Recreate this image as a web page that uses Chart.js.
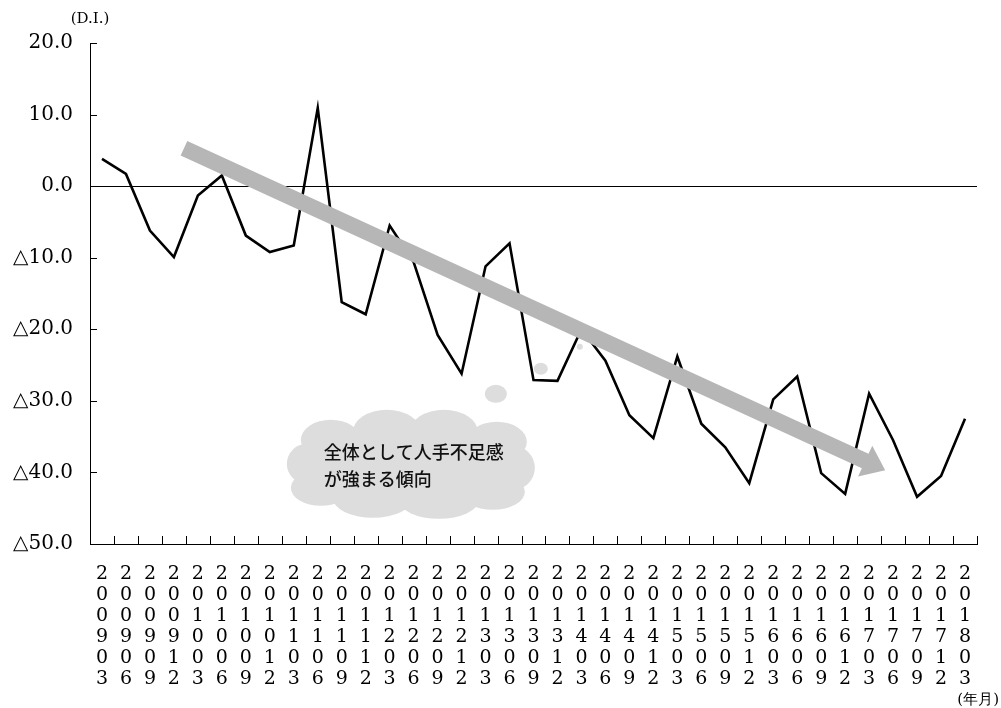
<!DOCTYPE html>
<html>
<head>
<meta charset="utf-8">
<script src="https://cdn.jsdelivr.net/npm/chart.js@4/dist/chart.umd.min.js"></script>
<style>
  html, body { margin: 0; padding: 0; background: #fff; }
  canvas { display: block; }
</style>
</head>
<body>
<canvas id="chartDI" width="1001" height="708"></canvas>
<script>
// 年月 (四半期)
const periods = [
  "200903", "200906", "200909", "200912",
  "201003", "201006", "201009", "201012",
  "201103", "201106", "201109", "201112",
  "201203", "201206", "201209", "201212",
  "201303", "201306", "201309", "201312",
  "201403", "201406", "201409", "201412",
  "201503", "201506", "201509", "201512",
  "201603", "201606", "201609", "201612",
  "201703", "201706", "201709", "201712",
  "201803",
];

// D.I. の値
const diValues = [
  3.8, 1.7, -6.2, -9.9,
  -1.3, 1.5, -6.9, -9.2,
  -8.3, 10.9, -16.2, -17.9,
  -5.5, -10.6, -20.8, -26.2,
  -11.2, -8.0, -27.1, -27.2,
  -20.0, -24.4, -32.0, -35.2,
  -23.8, -33.2, -36.5, -41.5,
  -29.8, -26.6, -40.1, -43.0,
  -29.0, -35.5, -43.4, -40.5,
  -32.5,
];

// 縦軸の目盛
const yTicks = [20, 10, 0, -10, -20, -30, -40, -50];

// 吹き出しの文
const calloutLines = ["全体として人手不足感", "が強まる傾向"];

// 傾向の矢印 (カテゴリ位置, 値)
const arrowFrom = [3.42, 5.3];
const arrowTo = [32.67, -39.7];

// 吹き出しの中心 (カテゴリ位置, 値)
const cloudAt = [12.8, -38.8];

const serif = "'DejaVu Serif', 'Liberation Serif', serif";

// 目盛ラベル (△ はマイナス)
const fmtTick = (v) => (v < 0 ? "△" + Math.abs(v).toFixed(1) : v.toFixed(1));

const decoPlugin = {
  id: "deco",
  afterDatasetsDraw(chart) {
    const { ctx, chartArea } = chart;
    const x = chart.scales.x;
    const y = chart.scales.y;
    ctx.save();

    // 内向きの目盛線
    ctx.strokeStyle = "#000";
    ctx.lineWidth = 1;
    ctx.beginPath();
    yTicks.forEach((v) => {
      const py = Math.round(y.getPixelForValue(v)) + 0.5;
      ctx.moveTo(chartArea.left, py);
      ctx.lineTo(chartArea.left + 7, py);
    });
    const n = periods.length;
    const step = (chartArea.right - chartArea.left) / n;
    for (let i = 0; i <= n; i++) {
      const px = Math.round(chartArea.left + i * step) + 0.5;
      ctx.moveTo(px, chartArea.bottom);
      ctx.lineTo(px, chartArea.bottom - 8);
    }
    ctx.stroke();

    // 矢印
    const x1 = x.getPixelForValue(arrowFrom[0]);
    const y1 = y.getPixelForValue(arrowFrom[1]);
    const x2 = x.getPixelForValue(arrowTo[0]);
    const y2 = y.getPixelForValue(arrowTo[1]);
    const len = Math.hypot(x2 - x1, y2 - y1);
    const dx = (x2 - x1) / len;
    const dy = (y2 - y1) / len;
    const nx = -dy;
    const ny = dx;
    const half = 8;
    const headLen = 22;
    const headHalf = 17;
    const bx = x2 - dx * headLen;
    const by = y2 - dy * headLen;
    ctx.fillStyle = "#b5b6b5";
    ctx.beginPath();
    ctx.moveTo(x1 + nx * half, y1 + ny * half);
    ctx.lineTo(bx + nx * half, by + ny * half);
    ctx.lineTo(bx + nx * headHalf, by + ny * headHalf);
    ctx.lineTo(x2, y2);
    ctx.lineTo(bx - nx * headHalf, by - ny * headHalf);
    ctx.lineTo(bx - nx * half, by - ny * half);
    ctx.lineTo(x1 - nx * half, y1 - ny * half);
    ctx.closePath();
    ctx.fill();

    // 雲形の吹き出し
    const cx = x.getPixelForValue(cloudAt[0]);
    const cy = y.getPixelForValue(cloudAt[1]);
    ctx.fillStyle = "#dcdddc";
    const puffs = [
      [0, 0, 110, 36],
      [-78, -24, 30, 20],
      [-22, -32, 34, 22],
      [35, -32, 34, 22],
      [88, -22, 30, 20],
      [104, 4, 22, 22],
      [84, 28, 32, 18],
      [30, 36, 40, 19],
      [-36, 34, 40, 20],
      [-88, 24, 30, 18],
      [-102, 0, 20, 20],
    ];
    puffs.forEach((p) => {
      ctx.beginPath();
      ctx.ellipse(cx + p[0], cy + p[1], p[2], p[3], 0, 0, Math.PI * 2);
      ctx.fill();
    });
    const bubbles = [
      [87, -70, 11, 9],
      [132, -95, 7, 6],
      [171, -117, 3, 3],
    ];
    bubbles.forEach((b) => {
      ctx.beginPath();
      ctx.ellipse(cx + b[0], cy + b[1], b[2], b[3], 0, 0, Math.PI * 2);
      ctx.fill();
    });

    ctx.fillStyle = "#111";
    ctx.font = "500 18px 'Noto Sans CJK JP', sans-serif";
    ctx.textAlign = "left";
    ctx.textBaseline = "alphabetic";
    calloutLines.forEach((t, i) => {
      ctx.fillText(t, cx - 85, cy - 5 + i * 27);
    });

    // 単位
    ctx.font = "15px " + serif;
    ctx.fillStyle = "#000";
    ctx.textAlign = "center";
    ctx.fillText("(D.I.)", chartArea.left, chartArea.top - 20);
    ctx.textAlign = "right";
    ctx.fillText("(年月)", chart.width - 2, chart.height - 4);
    ctx.restore();
  },
};

new Chart(document.getElementById("chartDI"), {
  type: "line",
  data: {
    labels: periods.map((p) => p.split("")),
    datasets: [
      {
        label: "D.I.",
        data: diValues,
        borderColor: "#000",
        borderWidth: 2.6,
        pointRadius: 0,
        tension: 0,
        fill: false,
      },
    ],
  },
  options: {
    responsive: false,
    animation: false,
    layout: { padding: { top: 43, right: 24, left: 0, bottom: 0 } },
    plugins: {
      legend: { display: false },
      tooltip: { enabled: false },
    },
    scales: {
      x: {
        offset: true,
        grid: { display: false, offset: true },
        border: { display: true, color: "#000", width: 1 },
        ticks: {
          autoSkip: false,
          maxRotation: 0,
          minRotation: 0,
          padding: 12,
          color: "#000",
          font: { family: serif, size: 19, lineHeight: "21px" },
        },
        afterFit: (scale) => {
          scale.height = 164;
        },
      },
      y: {
        min: -50,
        max: 20,
        afterBuildTicks: (scale) => {
          scale.ticks = yTicks.map((v) => ({ value: v }));
        },
        grid: {
          drawTicks: false,
          color: (c) => (c.tick && c.tick.value === 0 ? "#000" : "rgba(0,0,0,0)"),
          lineWidth: 1,
        },
        border: { display: true, color: "#000", width: 1 },
        ticks: {
          padding: 17,
          color: "#000",
          font: { family: serif, size: 20 },
          callback: (v) => fmtTick(v),
        },
        afterFit: (scale) => {
          scale.width = 90;
        },
      },
    },
  },
  plugins: [decoPlugin],
});
</script>
</body>
</html>
